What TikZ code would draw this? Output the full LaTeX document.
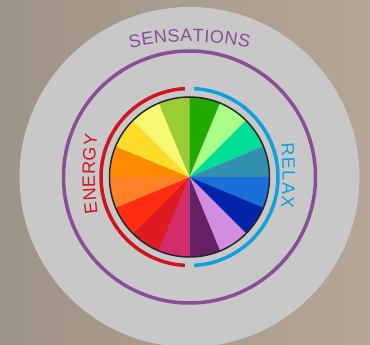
\documentclass[tikz,border=0pt]{standalone}
\usepackage{fontspec}
\setmainfont{Liberation Sans}
\usetikzlibrary{decorations.text}
\definecolor{bgl}{RGB}{158,147,135}
\definecolor{bgr}{RGB}{181,167,151}
\definecolor{diskgray}{RGB}{200,200,200}
\definecolor{sensepurple}{RGB}{138,78,150}
\definecolor{energyred}{RGB}{208,20,30}
\definecolor{relaxblue}{RGB}{16,160,224}
\definecolor{wA}{RGB}{34,170,0}
\definecolor{wB}{RGB}{170,255,136}
\definecolor{wC}{RGB}{0,221,153}
\definecolor{wD}{RGB}{50,144,174}
\definecolor{wE}{RGB}{26,111,216}
\definecolor{wF}{RGB}{0,37,170}
\definecolor{wG}{RGB}{209,142,223}
\definecolor{wH}{RGB}{101,32,102}
\definecolor{wI}{RGB}{212,43,107}
\definecolor{wJ}{RGB}{222,27,34}
\definecolor{wK}{RGB}{255,46,18}
\definecolor{wL}{RGB}{255,128,38}
\definecolor{wM}{RGB}{255,140,0}
\definecolor{wN}{RGB}{255,220,40}
\definecolor{wO}{RGB}{247,247,114}
\definecolor{wP}{RGB}{154,204,54}
\newcommand{\wheelfont}{\fontsize{18}{18}\selectfont}
\tikzset{
  ringline/.style={line width=3.5},
  curvedlabel/.style n args={2}{decorate, decoration={text along path,
     text={|\wheelfont|#1}, text color=#2, text align={fit to path}}},
}
\begin{document}
\begin{tikzpicture}[x=1pt,y=1pt]
\useasboundingbox (-189.5,-168) rectangle (180.5,177);
\shade[left color=bgl, right color=bgr] (-189.5,-168) rectangle (180.5,177);
\coordinate (c) at (0,0);
\fill[diskgray] (c) circle[radius=170];
% wheel wedges
\foreach \col [count=\i from 0] in {wA,wB,wC,wD,wE,wF,wG,wH,wI,wJ,wK,wL,wM,wN,wO,wP}{
  \pgfmathsetmacro{\sa}{90-22.5*\i}
  \pgfmathsetmacro{\ea}{90-22.5*(\i+1)}
  \fill[\col] (c) -- (\sa:80) arc[start angle=\sa, end angle=\ea, radius=80] -- cycle;
}
\draw[line width=1.5, black!85] (c) circle[radius=80];
% arcs
\draw[ringline, energyred] (93:88.5) arc[start angle=93, end angle=267, radius=88.5];
\draw[ringline, relaxblue] (87:88.5) arc[start angle=87, end angle=-87, radius=88.5];
\draw[ringline, sensepurple] (c) circle[radius=126];
% curved labels (flatter arcs than the rings)
\path[shift={(205.5,3)}, curvedlabel={ENERGY}{energyred}] (187.5:300) arc[start angle=187.5, end angle=172.5, radius=300];
\path[shift={(-206.8,1.5)}, curvedlabel={RELAX}{relaxblue}] (6.2:300) arc[start angle=6.2, end angle=-6.2, radius=300];
\path[shift={(0,-134.7)}, curvedlabel={SENSATIONS}{sensepurple}] (102.7:270) arc[start angle=102.7, end angle=77.3, radius=270];
\end{tikzpicture}
\end{document}
